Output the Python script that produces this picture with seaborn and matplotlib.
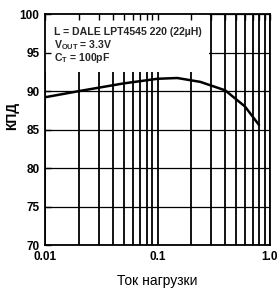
import matplotlib
matplotlib.use("Agg")
import matplotlib.pyplot as plt
import seaborn as sns
import pandas as pd
from matplotlib.patches import Rectangle
from matplotlib.ticker import NullFormatter, LogLocator

current = [0.01, 0.02, 0.05, 0.1, 0.15, 0.24, 0.4, 0.6, 0.8]
efficiency = [89.2, 90.0, 91.0, 91.6, 91.7, 91.2, 90.1, 88.0, 85.6]
x_ticks = [0.01, 0.1, 1.0]
x_tick_labels = ["0.01", "0.1", "1.0"]
y_ticks = [70, 75, 80, 85, 90, 95, 100]

sns.set_theme(style="white")
plt.rcParams['font.family'] = ['Liberation Sans', 'DejaVu Sans']

fig = plt.figure(figsize=(2.8, 3.0), dpi=100)
pos = [0.161, 0.183, 0.803, 0.770]
ax = fig.add_axes(pos)

df = pd.DataFrame({"I": current, "eff": efficiency})
sns.lineplot(data=df, x="I", y="eff", ax=ax, color="black", linewidth=1.8, zorder=3)

ax.set_xscale("log")
ax.set_xlim(0.01, 1.0)
ax.set_ylim(70, 100)
ax.set_xticks(x_ticks)
ax.set_xticklabels(x_tick_labels)
ax.xaxis.set_minor_locator(LogLocator(base=10, subs=range(2, 10)))
ax.xaxis.set_minor_formatter(NullFormatter())
ax.set_yticks(y_ticks)

ax.grid(which="major", axis="y", color="black", linewidth=0.9)
ax.grid(which="both", axis="x", color="black", linewidth=1.3)
ax.tick_params(which="both", length=0, labelsize=8.5, colors="black", pad=4)
for lbl in ax.get_xticklabels() + ax.get_yticklabels():
    lbl.set_fontweight("bold")
for s in ax.spines.values():
    s.set_color("black")
    s.set_linewidth(1.3)
    s.set_zorder(5)

# white box behind the annotation text (grid hidden there)
ax.add_patch(Rectangle((0, 0.749), 0.73, 0.251, transform=ax.transAxes,
                       facecolor="white", edgecolor="none", zorder=1))

ax.set_xlabel("Ток нагрузки", fontsize=10, color="black", labelpad=8)
ax.set_ylabel("КПД", fontsize=10, fontweight="bold", color="black", labelpad=6)
ax.yaxis.set_label_coords(-0.115, 0.56)

txt_kw = dict(transform=ax.transAxes, fontsize=7.6, fontweight="bold",
              va="baseline", ha="left", zorder=4)
ax.text(0.04, 0.909, "L = DALE LPT4545 220 (22µH)", **txt_kw)
ax.text(0.04, 0.851, "V$_{\\mathregular{OUT}}$ = 3.3V", **txt_kw)
ax.text(0.04, 0.795, "C$_{\\mathregular{T}}$ = 100pF", **txt_kw)

# overlay axes carrying short inward ticks on top/left (visible over the box)
ov = fig.add_axes(pos, sharex=ax, sharey=ax)
ov.patch.set_alpha(0)
ov.grid(False)
for s in ov.spines.values():
    s.set_visible(False)
ov.tick_params(which="both", direction="in", length=4, width=1.0, colors="black",
               top=True, bottom=False, left=True, right=False,
               labeltop=False, labelbottom=False, labelleft=False, labelright=False)

fig.savefig("out.png", dpi=100)
